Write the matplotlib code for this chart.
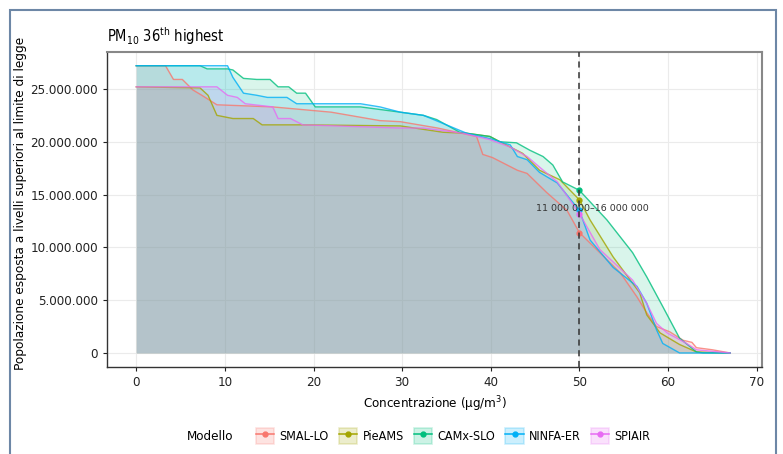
import numpy as np
import matplotlib.pyplot as plt
from matplotlib.patches import Rectangle
from matplotlib.lines import Line2D
from matplotlib.legend_handler import HandlerTuple
from matplotlib.ticker import FuncFormatter

plt.rcParams['font.family'] = ['DejaVu Sans']
plt.rcParams['font.stretch'] = 'condensed'

# dati (concentrazione, milioni di abitanti)
modelli = ['SMAL-LO', 'PieAMS', 'CAMx-SLO', 'NINFA-ER', 'SPIAIR']
colori = ['#F8766D', '#A3A500', '#00BF7D', '#00B0F6', '#E76BF3']

smal_x = [0, 3.3, 4.2, 5.2, 6.4, 7.4, 9.1, 15.4, 22, 27.5, 29.8, 34, 38.4, 39.1, 40.2, 43, 44.1, 45.2,
          46.3, 48.6, 50, 52.3, 54.6, 56.5, 57.6, 58.7, 60.2, 61.7, 62.7, 63.2, 65, 67]
smal_y = [27.2, 27.2, 25.9, 25.9, 24.9, 24.4, 23.5, 23.3, 22.8, 22.0, 21.9, 21.3, 20.5, 18.8, 18.5, 17.3,
          17.0, 16.1, 15.2, 13.5, 11.4, 9.5, 7.6, 5.3, 3.8, 2.5, 2.0, 1.2, 1.0, 0.5, 0.3, 0.0]

pie_x = [0, 7.2, 8.1, 9.1, 10.9, 13.2, 14.2, 18.8, 29.8, 34.6, 37.3, 39.9, 42.2, 43.6, 45.5, 47.8, 50,
         51.2, 53.8, 56.8, 57.6, 59.1, 61.3, 63.2, 65, 67]
pie_y = [25.2, 25.1, 24.4, 22.5, 22.2, 22.2, 21.6, 21.6, 21.5, 20.9, 20.8, 20.5, 19.5, 18.9, 17.3, 16.4,
         14.5, 12.6, 9.1, 5.7, 3.6, 1.9, 0.8, 0.1, 0.05, 0.0]

camx_x = [0, 7.2, 8.0, 10.3, 10.9, 12.1, 13.6, 15.1, 16.0, 17.2, 18.1, 19.1, 20.2, 25.3, 29.8, 32.4,
          33.9, 36.5, 39.9, 41.0, 42.9, 44.4, 45.9, 47.0, 48.1, 50, 53.1, 56.0, 57.6, 59.4, 61.3, 63.2,
          64, 67]
camx_y = [27.2, 27.2, 26.9, 26.9, 26.8, 26.0, 25.9, 25.9, 25.2, 25.2, 24.6, 24.6, 23.3, 23.3, 22.8, 22.5,
          22.1, 20.9, 20.5, 20.0, 19.9, 19.2, 18.6, 17.8, 16.2, 15.4, 12.6, 9.5, 7.2, 4.4, 1.4, 0.1,
          0.0, 0.0]

ninfa_x = [0, 10.3, 10.9, 12.1, 13.6, 14.8, 17.0, 18.1, 20.0, 25.3, 27.5, 29.8, 32.4, 37.3, 39.9, 42.2,
           43.0, 44.1, 45.5, 47.5, 50, 51.2, 53.8, 56.5, 57.6, 58.7, 59.4, 61.3, 67]
ninfa_y = [27.2, 27.2, 26.1, 24.6, 24.4, 24.2, 24.2, 23.6, 23.6, 23.6, 23.3, 22.8, 22.5, 20.8, 20.3, 19.7,
           18.6, 18.3, 17.1, 16.1, 13.5, 10.7, 8.1, 6.3, 4.7, 2.2, 0.9, 0.0, 0.0]

spi_x = [0, 9.1, 10.3, 11.4, 12.3, 15.4, 16.0, 17.4, 18.8, 29.8, 32.4, 36.9, 39.9, 42.2, 44.1, 45.5,
         47.5, 50, 52.3, 56.0, 57.6, 58.7, 59.9, 62.1, 63.2, 67]
spi_y = [25.2, 25.2, 24.4, 24.2, 23.6, 23.3, 22.2, 22.2, 21.6, 21.3, 21.3, 20.8, 20.2, 19.5, 18.6, 17.6,
         16.2, 13.2, 9.8, 6.9, 4.7, 2.8, 1.9, 0.9, 0.3, 0.0]

serie_x = [smal_x, pie_x, camx_x, ninfa_x, spi_x]
serie_y = [smal_y, pie_y, camx_y, ninfa_y, spi_y]

soglia = 50
etichetta = '11 000 000–16 000 000'

fig = plt.figure(figsize=(7.83, 4.54), dpi=100)
ax = fig.add_axes([107 / 783, 1 - 367 / 454, 655 / 783, 315 / 454])

for x, y, c in zip(serie_x, serie_y, colori):
    x = np.array(x)
    y = np.array(y) * 1e6
    ax.fill_between(x, 0, y, color=c, alpha=0.15, linewidth=0, zorder=2)
    ax.plot(x, y, color=c, lw=1.0, alpha=0.8, zorder=3)
    v = np.interp(soglia, x, y)
    ax.plot([soglia], [v], 'o', color=c, ms=3.5, zorder=4)

ax.axvline(soglia, color='#333333', lw=1.1, ls=(0, (4, 3)), zorder=5)
ax.text(51.5, 13.7e6, etichetta, fontsize=6.8, color='#333333', ha='center', va='center',
        fontstretch='normal', zorder=6)

ax.set_xlim(-3.3, 70.6)
ax.set_ylim(-1.33e6, 28.5e6)
ax.set_xticks(np.arange(0, 71, 10))
ax.set_yticks(np.arange(0, 25.1e6, 5e6))
ax.yaxis.set_major_formatter(FuncFormatter(lambda v, p: f'{int(v):,}'.replace(',', '.')))
ax.grid(True, color='#ebebeb', lw=0.8, zorder=0)
ax.set_axisbelow(True)
for s in ['top', 'right']:
    ax.spines[s].set_color('#888888')
    ax.spines[s].set_linewidth(1.5)
for s in ['left', 'bottom']:
    ax.spines[s].set_color('#333333')
    ax.spines[s].set_linewidth(1.0)
ax.tick_params(labelsize=9.5, colors='#222222', length=3)
ax.set_xlabel('Concentrazione (µg/m$^\\mathregular{3}$)', fontsize=9.5, labelpad=4)
ax.set_ylabel('Popolazione esposta a livelli superiori al limite di legge', fontsize=9.7)
ax.yaxis.set_label_coords(-0.122, 0.52)
ax.set_title('PM$_\\mathregular{10}$ 36$^\\mathregular{th}$ highest', loc='left', fontsize=10.5, pad=7)

# legenda
handles = []
for c in colori:
    handles.append((Rectangle((0, 0), 1, 1, facecolor=c, alpha=0.2, edgecolor=c, lw=1.2),
                    Line2D([], [], color=c, marker='o', ms=3.5, lw=1.1)))
fig.legend(handles, modelli, loc='center', bbox_to_anchor=(453 / 783, 1 - 436 / 454), ncol=5,
           frameon=False, fontsize=9, handlelength=1.5, handleheight=1.5, columnspacing=0.8,
           handletextpad=0.4, handler_map={tuple: HandlerTuple(ndivide=1)})
fig.text(210 / 783, 1 - 436 / 454, 'Modello', fontsize=9.5, ha='center', va='center')

# cornice esterna
fig.add_artist(Rectangle((10 / 783, -0.05), 766 / 783, 1.05 - 10 / 454, transform=fig.transFigure,
                         fill=False, edgecolor='#6d87a6', lw=1.5))

fig.savefig('out.png', dpi=100)
